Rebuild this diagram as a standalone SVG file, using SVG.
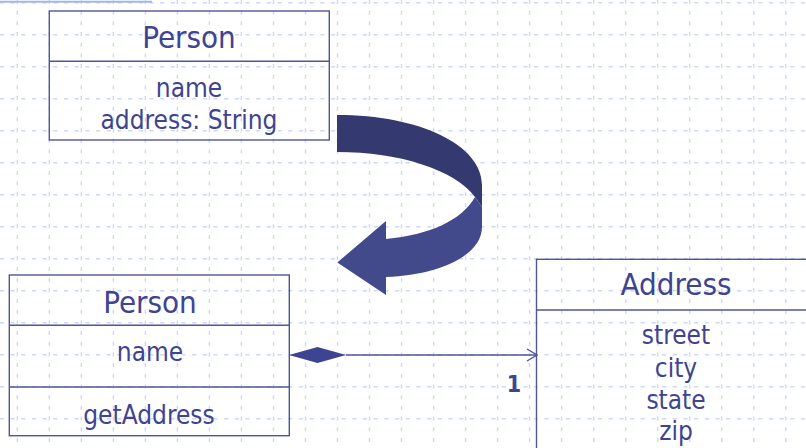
<svg xmlns="http://www.w3.org/2000/svg" width="806" height="448" viewBox="0 0 806 448">
<defs>
<style>
.grid line{stroke:#ccd8fa;stroke-width:1.4;stroke-dasharray:4 6.68}
.box{fill:none;stroke:#505499;stroke-width:1.4}
.t{font-family:"DejaVu Sans Condensed","DejaVu Sans",sans-serif;fill:#3e4491;text-anchor:middle}
.title{font-size:31px}
.body{font-size:26px}
.mult{font-family:"DejaVu Sans Condensed","DejaVu Sans",sans-serif;font-weight:bold;font-size:23px;fill:#3e4491;text-anchor:middle}
</style>
<marker id="open" viewBox="0 0 12 14" refX="11" refY="7" markerWidth="12" markerHeight="14" markerUnits="userSpaceOnUse" orient="auto">
<path d="M1,1 L11,7 L1,13" fill="none" stroke="#505499" stroke-width="1.4"/>
</marker>
</defs>
<rect width="806" height="448" fill="#ffffff"/>
<g class="grid">
<line x1="0" y1="2.7" x2="806" y2="2.7"/>
<line x1="0" y1="34.7" x2="806" y2="34.7"/>
<line x1="0" y1="66.7" x2="806" y2="66.7"/>
<line x1="0" y1="98.7" x2="806" y2="98.7"/>
<line x1="0" y1="130.7" x2="806" y2="130.7"/>
<line x1="0" y1="162.7" x2="806" y2="162.7"/>
<line x1="0" y1="194.7" x2="806" y2="194.7"/>
<line x1="0" y1="226.7" x2="806" y2="226.7"/>
<line x1="0" y1="258.7" x2="806" y2="258.7"/>
<line x1="0" y1="290.7" x2="806" y2="290.7"/>
<line x1="0" y1="322.7" x2="806" y2="322.7"/>
<line x1="0" y1="354.7" x2="806" y2="354.7"/>
<line x1="0" y1="386.7" x2="806" y2="386.7"/>
<line x1="0" y1="418.7" x2="806" y2="418.7"/>
<line x1="17.3" y1="0" x2="17.3" y2="448"/>
<line x1="49.3" y1="0" x2="49.3" y2="448"/>
<line x1="81.3" y1="0" x2="81.3" y2="448"/>
<line x1="113.4" y1="0" x2="113.4" y2="448"/>
<line x1="145.4" y1="0" x2="145.4" y2="448"/>
<line x1="177.4" y1="0" x2="177.4" y2="448"/>
<line x1="209.4" y1="0" x2="209.4" y2="448"/>
<line x1="241.4" y1="0" x2="241.4" y2="448"/>
<line x1="273.5" y1="0" x2="273.5" y2="448"/>
<line x1="305.5" y1="0" x2="305.5" y2="448"/>
<line x1="337.5" y1="0" x2="337.5" y2="448"/>
<line x1="369.5" y1="0" x2="369.5" y2="448"/>
<line x1="401.5" y1="0" x2="401.5" y2="448"/>
<line x1="433.6" y1="0" x2="433.6" y2="448"/>
<line x1="465.6" y1="0" x2="465.6" y2="448"/>
<line x1="497.6" y1="0" x2="497.6" y2="448"/>
<line x1="529.6" y1="0" x2="529.6" y2="448"/>
<line x1="561.6" y1="0" x2="561.6" y2="448"/>
<line x1="593.7" y1="0" x2="593.7" y2="448"/>
<line x1="625.7" y1="0" x2="625.7" y2="448"/>
<line x1="657.7" y1="0" x2="657.7" y2="448"/>
<line x1="689.7" y1="0" x2="689.7" y2="448"/>
<line x1="721.7" y1="0" x2="721.7" y2="448"/>
<line x1="753.8" y1="0" x2="753.8" y2="448"/>
<line x1="785.8" y1="0" x2="785.8" y2="448"/>
</g>
<line x1="0" y1="1.8" x2="152" y2="1.8" stroke="#a3b6f2" stroke-width="2"/>

<g id="person-old">
<rect class="box" x="49.3" y="11" width="280" height="129"/>
<line class="box" x1="49.3" y1="61.3" x2="329.3" y2="61.3"/>
<text class="t title" x="189" y="48">Person</text>
<text class="t body" x="189" y="97">name</text>
<text class="t body" x="189" y="128.5">address: String</text>
</g>

<g id="transform-arrow">
<path d="M337,115 C420,115 482,145 482,185 L482,207 L475,197 C455,170 400,152 337,152 Z" fill="#343a70"/>
<path d="M475,197 L482,207 L482,227 C482,255 440,275 386,277 L386,295 L337.3,262.5 L386,221 L386,239 C430,235 462,220 475,197 Z" fill="#434a8c"/>
</g>

<g id="person-new">
<rect class="box" x="9.3" y="275" width="280" height="160.7"/>
<line class="box" x1="9.3" y1="325.3" x2="289.3" y2="325.3"/>
<line class="box" x1="9.3" y1="387" x2="289.3" y2="387"/>
<text class="t title" x="150" y="312.5">Person</text>
<text class="t body" x="150" y="361">name</text>
<text class="t body" x="149" y="424">getAddress</text>
</g>

<g id="address">
<rect class="box" x="536.5" y="259.3" width="290" height="200"/>
<line class="box" x1="536.5" y1="310" x2="806" y2="310"/>
<text class="t title" x="676" y="295">Address</text>
<text class="t body" x="676" y="344">street</text>
<text class="t body" x="676" y="376.5">city</text>
<text class="t body" x="676" y="408.5">state</text>
<text class="t body" x="676" y="440">zip</text>
</g>

<g id="connectors">
<path d="M289,355 L317.5,347 L346,355 L317.5,363 Z" fill="#3e4491"/>
<line x1="346" y1="355" x2="537" y2="355" stroke="#505499" stroke-width="1.4" marker-end="url(#open)"/>
<text class="mult" x="514" y="391.5">1</text>
</g>
</svg>
